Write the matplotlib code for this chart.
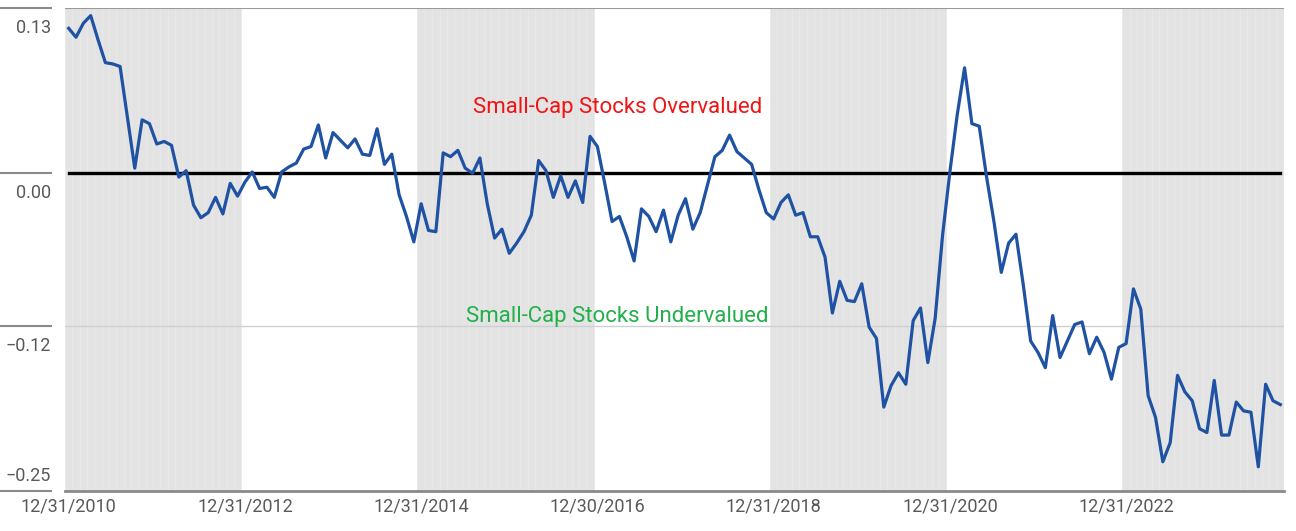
import numpy as np
import pandas as pd
import matplotlib
matplotlib.use("Agg")
import matplotlib.pyplot as plt
import matplotlib.transforms as mtransforms

plt.rcParams['font.family'] = ['Roboto', 'DejaVu Sans']

# ── Data: monthly small-cap valuation spread, 12/2010 .. 09/2024 -----------
months = pd.date_range("2010-12-31", periods=166, freq="ME")
spread = [
    0.114, 0.107, 0.118, 0.124, 0.105, 0.087, 0.086, 0.084, 0.044, 0.004,
    0.042, 0.039, 0.023, 0.025, 0.022, -0.003, 0.002, -0.025, -0.035, -0.031,
    -0.019, -0.032, -0.008, -0.018, -0.007, 0.001, -0.012, -0.011, -0.019, 0.001,
    0.005, 0.008, 0.019, 0.021, 0.038, 0.012, 0.032, 0.026, 0.020, 0.027,
    0.015, 0.014, 0.035, 0.007, 0.015, -0.017, -0.034, -0.054, -0.024, -0.045,
    -0.046, 0.016, 0.013, 0.018, 0.004, 0.000, 0.012, -0.024, -0.051, -0.044,
    -0.063, -0.055, -0.046, -0.033, 0.010, 0.002, -0.019, -0.002, -0.019, -0.006,
    -0.023, 0.029, 0.021, -0.008, -0.038, -0.034, -0.050, -0.069, -0.028, -0.034,
    -0.046, -0.029, -0.054, -0.033, -0.020, -0.044, -0.031, -0.009, 0.013, 0.018,
    0.030, 0.017, 0.012, 0.007, -0.013, -0.031, -0.036, -0.023, -0.017, -0.033,
    -0.031, -0.050, -0.050, -0.066, -0.110, -0.085, -0.100, -0.101, -0.087, -0.121,
    -0.130, -0.184, -0.167, -0.157, -0.166, -0.116, -0.106, -0.149, -0.114, -0.049,
    0.001, 0.046, 0.083, 0.039, 0.037, -0.003, -0.038, -0.078, -0.055, -0.048,
    -0.088, -0.132, -0.141, -0.153, -0.112, -0.145, -0.132, -0.119, -0.117, -0.142,
    -0.129, -0.141, -0.162, -0.137, -0.134, -0.091, -0.107, -0.175, -0.192, -0.227,
    -0.212, -0.159, -0.172, -0.179, -0.201, -0.204, -0.163, -0.206, -0.206, -0.180,
    -0.187, -0.188, -0.231, -0.166, -0.179, -0.182,
]
fair_value = [0.0] * len(spread)

tick_labels = ["12/31/2010", "12/31/2012", "12/31/2014", "12/30/2016",
               "12/31/2018", "12/31/2020", "12/31/2022"]
y_levels = [0.13, 0.00, -0.12, -0.25]
y_labels = ["0.13", "0.00", "\u22120.12", "\u22120.25"]

# ── Plot -------------------------------------------------------------------
x = np.arange(len(months))
label_color = "#595959"

fig = plt.figure(figsize=(12.96, 5.31), dpi=100)
ax = fig.add_axes([65 / 1296, 1 - 491 / 531, 1219 / 1296, 483 / 531])

# alternating two-year shaded bands, one bar per month
shaded = (x // 24) % 2 == 0
ax.bar(x[shaded], [0.38] * shaded.sum(), bottom=-0.25, width=1.0,
       color="#e3e3e3", edgecolor="#e9e9e9", linewidth=0.6, zorder=0)

ax.axhline(-0.12, color="#d0d0d0", lw=1.0, zorder=1)
ax.axhline(0.13, color="#9a9a9a", lw=1.5, zorder=1)

ax.plot(x, fair_value, color="black", lw=2.4, zorder=2)
ax.plot(x, spread, color="#1f52a3", lw=2.3, zorder=3)

ax.text(74.7, 0.052, "Small-Cap Stocks Overvalued", color="#f01414",
        fontsize=16, ha="center", va="center")
ax.text(74.7, -0.113, "Small-Cap Stocks Undervalued", color="#22b04b",
        fontsize=16, ha="center", va="center")

ax.set_xlim(-0.5, 165.5)
ax.set_ylim(-0.25, 0.13)

for side in ["left", "right", "top"]:
    ax.spines[side].set_visible(False)
ax.spines["bottom"].set_color("#8a8a8a")
ax.spines["bottom"].set_linewidth(2.0)

ax.set_yticks([])
ax.set_xticks(x[::24][:len(tick_labels)])
ax.set_xticklabels(tick_labels, fontsize=13, color=label_color)
ax.tick_params(axis="x", length=0, pad=5)

# y labels hang under their gridline, with a short rule to the left
trans = mtransforms.blended_transform_factory(ax.transAxes, ax.transData)
for lvl, lab in zip(y_levels, y_labels):
    ax.plot([-65 / 1219, -14 / 1219], [lvl, lvl], transform=trans,
            color="#8a8a8a", lw=1.5, clip_on=False)
    dy = 11 if lvl == -0.25 else -14.5
    ax.annotate(lab, xy=(-14 / 1219, lvl), xycoords=trans,
                xytext=(0, dy), textcoords="offset points",
                ha="right", va="center", fontsize=13, color=label_color)

fig.savefig("out.png", dpi=100)
